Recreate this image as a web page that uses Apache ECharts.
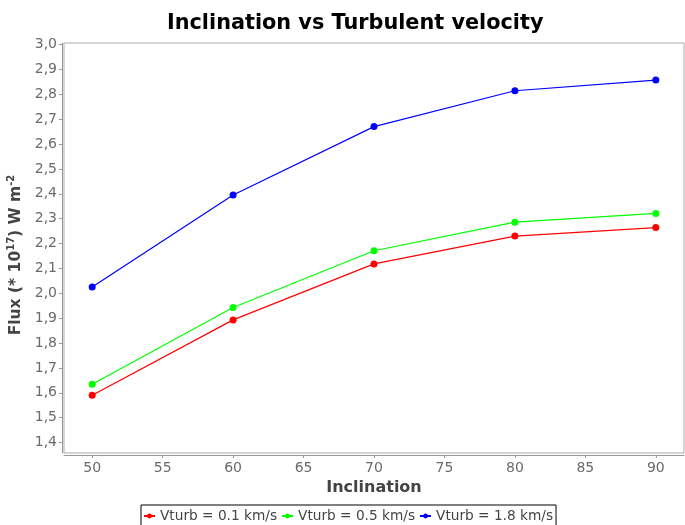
<!DOCTYPE html>
<html>
<head>
<meta charset="utf-8">
<script src="https://cdn.jsdelivr.net/npm/echarts@6/dist/echarts.min.js"></script>
<style>html,body{margin:0;padding:0;background:#fff}#c{width:685px;height:525px}</style>
</head>
<body>
<div id="c"></div>
<script>
var inclination = [50, 60, 70, 80, 90];
var vturb01 = [1.590, 1.893, 2.118, 2.230, 2.264];
var vturb05 = [1.634, 1.943, 2.171, 2.286, 2.321];
var vturb18 = [2.025, 2.395, 2.670, 2.814, 2.857];
var seriesNames = ['Vturb = 0.1 km/s', 'Vturb = 0.5 km/s', 'Vturb = 1.8 km/s'];
var seriesColors = ['#ff0000', '#00ff00', '#0000ff'];
var seriesValues = [vturb01, vturb05, vturb18];
var xTicks = [50, 55, 60, 65, 70, 75, 80, 85, 90];
var yTicks = [1.4, 1.5, 1.6, 1.7, 1.8, 1.9, 2.0, 2.1, 2.2, 2.3, 2.4, 2.5, 2.6, 2.7, 2.8, 2.9, 3.0];

var chart = echarts.init(document.getElementById('c'), null, {renderer: 'canvas'});
var font = 'DejaVu Sans';
var series = seriesValues.map(function (vals, i) {
  return {
    name: seriesNames[i],
    type: 'line',
    data: inclination.map(function (x, j) { return [x, vals[j]]; }),
    symbol: 'circle',
    symbolSize: 7,
    itemStyle: {color: seriesColors[i]},
    lineStyle: {color: seriesColors[i], width: 1.2},
    animation: false
  };
});
chart.setOption({
  backgroundColor: '#fff',
  animation: false,
  title: {
    text: 'Inclination vs Turbulent velocity',
    left: 162, top: 8,
    textStyle: {fontFamily: font, fontSize: 20.8, fontWeight: 'bold', color: '#000'}
  },
  legend: {
    bottom: -3, left: 141,
    itemWidth: 11, itemHeight: 6, itemGap: 4,
    borderColor: '#000', borderWidth: 1, padding: [4, 3, 5, 2],
    textStyle: {fontFamily: font, fontSize: 13.7, color: '#444'},
    data: seriesNames
  },
  grid: {left: 64, right: 1, top: 43, bottom: 72, show: true, borderColor: '#aaa', borderWidth: 1,
    containLabel: false, outerBoundsMode: 'none'},
  xAxis: {
    type: 'value', min: 48, max: 92,
    offset: 2,
    name: 'Inclination', nameLocation: 'middle', nameGap: 24,
    nameTextStyle: {fontFamily: font, fontSize: 16, fontWeight: 'bold', color: '#444'},
    axisLine: {show: true, lineStyle: {color: '#999', width: 1}},
    axisTick: {show: true, length: 3, lineStyle: {color: '#999'}, customValues: xTicks},
    axisLabel: {fontFamily: font, fontSize: 14, color: '#6a6a6a', margin: 6, customValues: xTicks},
    splitLine: {show: false}
  },
  yAxis: {
    type: 'value', min: 1.358, max: 3.006,
    offset: 2,
    name: 'Flux (* 10{sup|17}) W m{sup|-2}', nameLocation: 'middle', nameGap: 26, nameRotate: 90,
    nameTextStyle: {fontFamily: font, fontSize: 15.5, fontWeight: 'bold', color: '#444', padding: [0, 14, 0, 0],
      rich: {sup: {fontFamily: font, fontSize: 10, fontWeight: 'bold', color: '#444', verticalAlign: 'top', padding: [0, 0, 8, 0]}}},
    axisLine: {show: true, lineStyle: {color: '#999', width: 1}},
    axisTick: {show: true, length: 3, lineStyle: {color: '#999'}, customValues: yTicks},
    axisLabel: {fontFamily: font, fontSize: 14, color: '#6a6a6a', margin: 5, customValues: yTicks,
      formatter: function (v) { return v.toFixed(1).replace('.', ','); }},
    splitLine: {show: false}
  },
  series: series
});
</script>
</body>
</html>
